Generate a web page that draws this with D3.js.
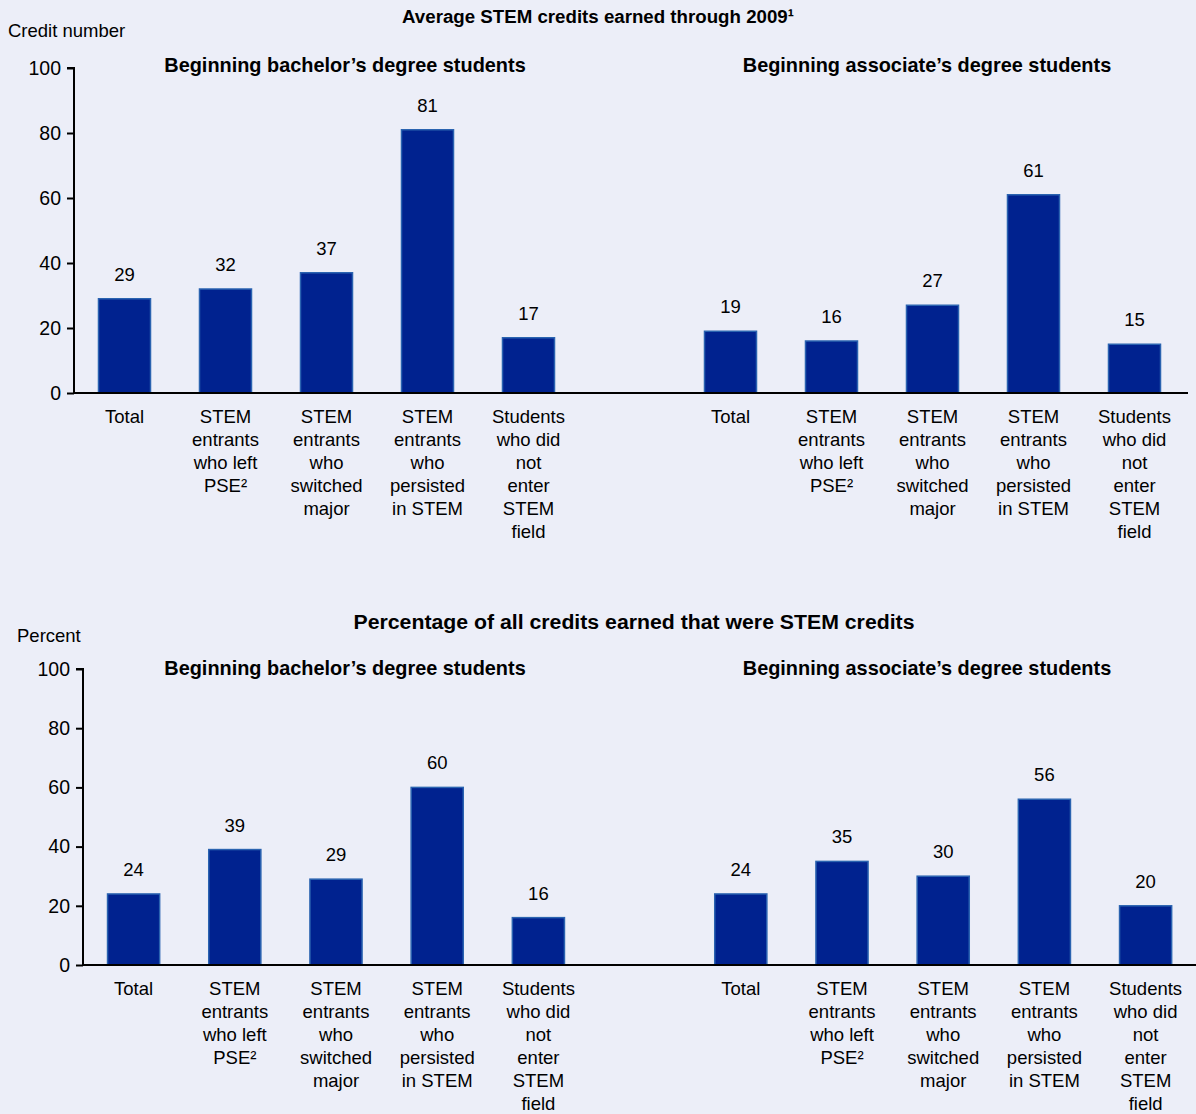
<!DOCTYPE html>
<html><head><meta charset="utf-8">
<script src="https://cdn.jsdelivr.net/npm/d3@7"></script>
<style>
html,body{margin:0;padding:0;background:#eceef8;}
svg{display:block;font-family:"Liberation Sans",Arial,sans-serif;}
</style></head>
<body><svg id="c" width="1196" height="1114"></svg>
<script>
const categories = [
  ["Total"],
  ["STEM","entrants","who left","PSE²"],
  ["STEM","entrants","who","switched","major"],
  ["STEM","entrants","who","persisted","in STEM"],
  ["Students","who did","not","enter","STEM","field"]
];
const groups = ["Beginning bachelor’s degree students","Beginning associate’s degree students"];
const creditsBachelor = [29, 32, 37, 81, 17];
const creditsAssociate = [19, 16, 27, 61, 15];
const pctBachelor = [24, 39, 29, 60, 16];
const pctAssociate = [24, 35, 30, 56, 20];
const yTicks = [0, 20, 40, 60, 80, 100];

const svg = d3.select("#c");
const BAR = "#00228f", EDGE = "#2a63b0";

function panel(opt){
  const g = svg.append("g");
  const slots = d3.range(11);
  const x = d3.scaleBand().domain(slots).range([opt.x0, opt.x0 + opt.slotW*11]).paddingInner(0.485).paddingOuter(0.2425);
  const y = d3.scaleLinear().domain([0,100]).range([opt.y0, opt.y100]);
  // title
  const t = g.append("text").attr("x", opt.titleX).attr("y", opt.titleY).attr("text-anchor","middle")
    .attr("font-weight","bold").attr("font-size",opt.titleSize).attr("fill","#000").text(opt.title);
  if (opt.titleLen) t.attr("textLength", opt.titleLen).attr("lengthAdjust","spacingAndGlyphs");
  g.append("text").attr("x", opt.unitX).attr("y", opt.unitY).attr("font-size",18.5).attr("fill","#000").text(opt.unit);
  // subtitles
  groups.forEach((t,i)=>{
    g.append("text").attr("x", opt.subX[i]).attr("y", opt.subY).attr("text-anchor","middle")
      .attr("font-weight","bold").attr("font-size",19.9).attr("fill","#000").text(t);
  });
  // y axis
  const ya = d3.axisLeft(y).tickValues(yTicks).tickSize(7).tickPadding(6);
  const yg = g.append("g").attr("transform",`translate(${opt.x0},0)`).call(ya);
  yg.select(".domain").attr("stroke","#000").attr("stroke-width",2).attr("d",`M-7,${opt.y100}H0V${opt.y0}`);
  yg.selectAll(".tick line").attr("stroke","#000").attr("stroke-width",2);
  yg.selectAll(".tick text").attr("font-size",19.5).attr("fill","#000").attr("font-family","Liberation Sans, Arial, sans-serif");
  // bars
  const data = [];
  opt.series.forEach((s,gi)=> s.forEach((v,i)=> data.push({slot: gi*6 + i, v, cat: categories[i]})));
  g.selectAll("rect.bar").data(data).join("rect").attr("class","bar")
    .attr("x", d=>x(d.slot)).attr("width", x.bandwidth())
    .attr("y", d=>y(d.v)).attr("height", d=>y(0)-y(d.v))
    .attr("fill", BAR).attr("stroke", EDGE).attr("stroke-width",1.5);
  g.selectAll("text.val").data(data).join("text").attr("class","val")
    .attr("x", d=>x(d.slot)+x.bandwidth()/2).attr("y", d=>y(d.v)-18)
    .attr("text-anchor","middle").attr("font-size",18.5).attr("fill","#000").text(d=>d.v);
  // x axis line
  g.append("line").attr("x1", opt.x0).attr("x2", opt.xEnd).attr("y1", opt.y0).attr("y2", opt.y0)
    .attr("stroke","#000").attr("stroke-width",2);
  // category labels
  const cl = g.selectAll("text.cat").data(data).join("text").attr("class","cat")
    .attr("text-anchor","middle").attr("font-size",18.5).attr("fill","#000")
    .attr("transform", d=>`translate(${x(d.slot)+x.bandwidth()/2},${opt.y0+30})`);
  cl.selectAll("tspan").data(d=>d.cat).join("tspan").attr("x",0).attr("y",(d,i)=>i*23).text(d=>d);
}

panel({x0:74, slotW:101, xEnd:1188, y0:393, y100:68, title:"Average STEM credits earned through 2009¹", titleX:598, titleY:23, titleSize:18.7,
  unit:"Credit number", unitX:8, unitY:37, subX:[345,927], subY:72, series:[creditsBachelor, creditsAssociate]});
panel({x0:83, slotW:101.2, xEnd:1196, y0:965, y100:669, title:"Percentage of all credits earned that were STEM credits", titleX:634, titleY:629, titleSize:19.5, titleLen:561,
  unit:"Percent", unitX:17, unitY:642, subX:[345,927], subY:675, series:[pctBachelor, pctAssociate]});
</script></body></html>
